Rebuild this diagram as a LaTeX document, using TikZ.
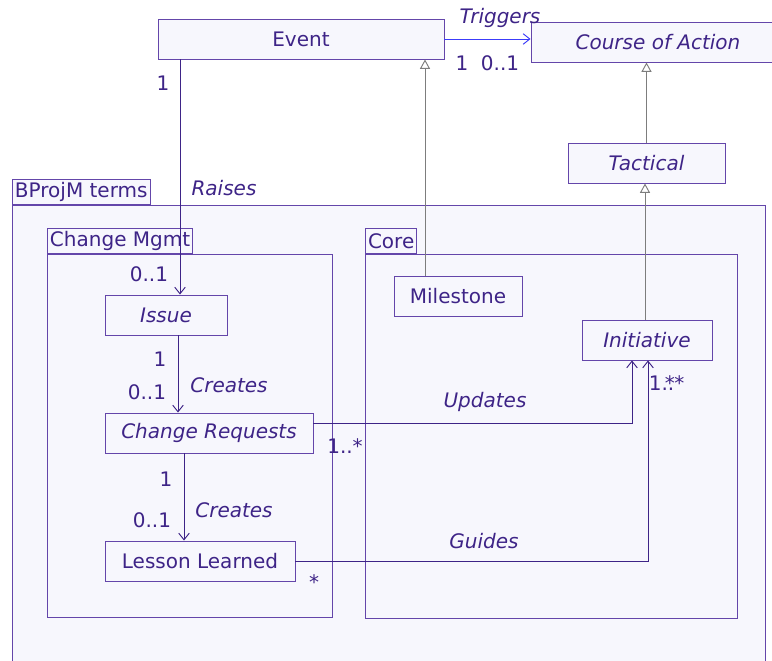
\documentclass[tikz,border=0pt]{standalone}
\usepackage{fontspec}
\setmainfont{DejaVu Sans}
\usetikzlibrary{arrows.meta,positioning}
\definecolor{umlink}{RGB}{62,36,135}
\definecolor{umledge}{RGB}{100,70,170}
\definecolor{umlfill}{RGB}{247,247,253}
\definecolor{umlgrey}{RGB}{125,125,125}
\definecolor{umlblue}{RGB}{60,60,250}
\newcommand{\umlsize}{\fontsize{15}{18}\selectfont}
\tikzset{cls/.style={draw=umledge,fill=umlfill,text=umlink,minimum height=30pt,inner sep=0pt},
  abst/.style={cls,font=\umlsize\itshape},
  pkgtab/.style={draw=umledge,fill=umlfill,text=umlink,anchor=south west,inner xsep=1.9pt,inner ysep=0pt,minimum height=18.75pt},
  pkgframe/.style={draw=umledge,fill=umlfill},
  assoc/.style={draw=umlink,-{Straight Barb[length=5pt,width=8pt]}},
  gen/.style={draw=umlgrey,-{Triangle[open,length=7pt,width=7.5pt]}},
  mult/.style={text=umlink},
  role/.style={text=umlink,font=\umlsize\itshape}}

\begin{document}
\begin{tikzpicture}[x=0.75pt,y=-0.75pt,font=\umlsize,line width=0.7pt]
\useasboundingbox (0,0) rectangle (772,661);
\fill[white] (0,0) rectangle (772,661);
% packages
\draw[pkgframe] (12,205) rectangle (765,690);
\node[pkgtab] (bpTab) at (12,205) {BProjM terms};
\draw[pkgframe] (47,254) rectangle (332,617);
\node[pkgtab] (cmTab) at (47,254) {Change Mgmt};
\draw[pkgframe] (365,254) rectangle (737,618);
\node[pkgtab] (coreTab) at (365,254) {Core};
% classes
\node[cls,minimum width=214.5pt] (Event) at (301,39) {Event};
\node[abst,minimum width=190.5pt] (CoA) at (658,42) {Course of Action};
\node[abst,minimum width=117.75pt] (Tactical) at (646.5,163) {Tactical};
\node[abst,minimum width=91.5pt] (Issue) at (166,315) {Issue};
\node[cls,minimum width=96pt] (Milestone) at (458,296) {Milestone};
\node[abst,minimum width=97.5pt] (Initiative) at (647,340) {Initiative};
\node[abst,minimum width=156pt] (CR) at (209,433) {Change Requests};
\node[cls,minimum width=142.5pt] (LL) at (200,561) {Lesson Learned};
% generalizations
\draw[gen] ([xshift=-24.75pt]Milestone.north) -- ([xshift=-24.75pt]Milestone.north |- Event.south);
\draw[gen] (Tactical.north) -- (Tactical.north |- CoA.south);
\draw[gen] ([xshift=-1.5pt]Initiative.north) -- ([xshift=-1.5pt]Initiative.north |- Tactical.south);
% associations
\coordinate (raiseX) at (180,0);
\draw[assoc,draw=umlblue] (Event.east) -- (Event.east -| CoA.west);
\draw[assoc] (Event.south -| raiseX) -- (Issue.north -| raiseX);
\draw[assoc] ([xshift=9pt]Issue.south) -- ([xshift=9pt]Issue.south |- CR.north);
\draw[assoc] ([xshift=-18.75pt]CR.south) -- ([xshift=-18.75pt]CR.south |- LL.north);
\draw[assoc] ([yshift=7.5pt]CR.east) -| ([xshift=-11.25pt]Initiative.south);
\draw[assoc] (LL.east) -| ([xshift=0.75pt]Initiative.south);
% labels
\node[role] (trigLbl) at (500,18) {Triggers};
\node[mult] (trigSrc) at (462,63) {1};
\node[mult] (trigDst) at (500,63) {0..1};
\node[mult] (raiseSrc) at (163,83) {1};
\node[role] (raiseLbl) at (224,188) {Raises};
\node[mult] (raiseDst) at (149,274) {0..1};
\node[mult] (cr1Src) at (160,359) {1};
\node[mult] (cr1Dst) at (147,392) {0..1};
\node[role] (cr1Lbl) at (229,385) {Creates};
\node[mult] (cr2Src) at (166,479) {1};
\node[mult] (cr2Dst) at (152,520) {0..1};
\node[role] (cr2Lbl) at (234,510) {Creates};
\node[role] (updLbl) at (485,402) {Updates};
\node[mult] (updSrc) at (345,446) {1..*};
\node[mult,anchor=west] (updDst) at (644,383) {1..*};
\node[role] (guiLbl) at (484,541) {Guides};
\node[mult] (guiSrc) at (314,582) {*};
\node[mult,anchor=west] (guiDst) at (660,383) {*};
\end{tikzpicture}
\end{document}
